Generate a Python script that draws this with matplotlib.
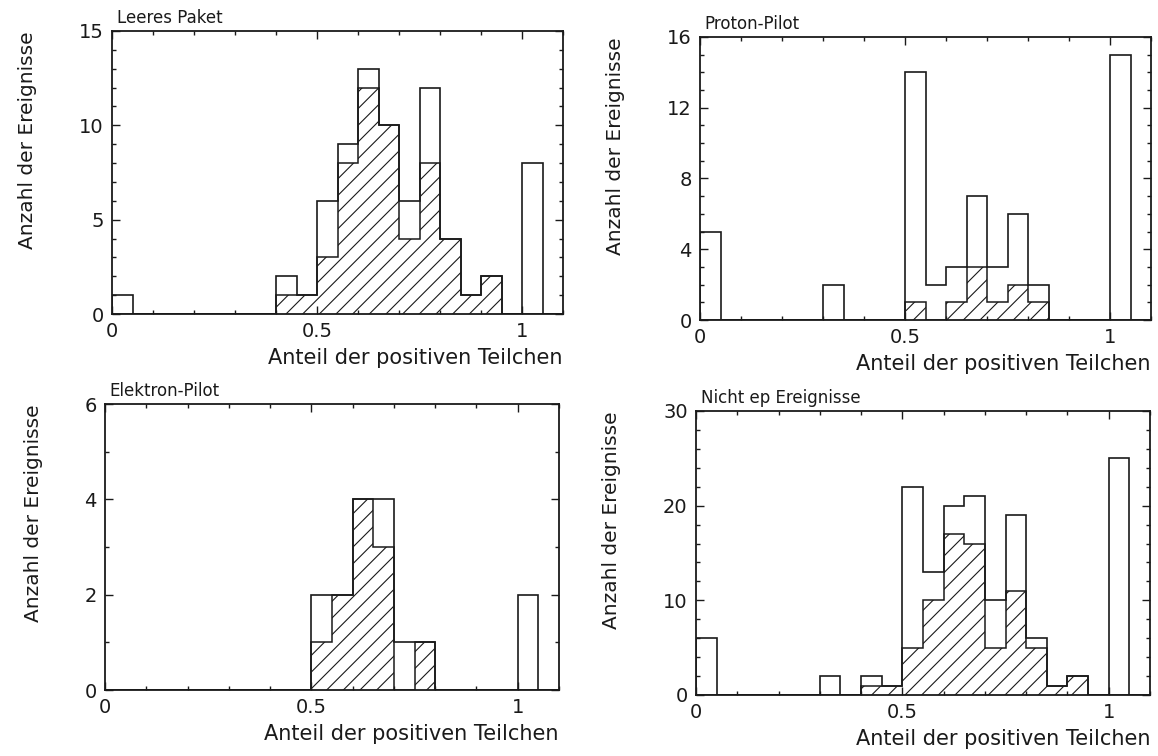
import numpy as np
import matplotlib as mpl
import matplotlib.pyplot as plt
from matplotlib.ticker import MultipleLocator

# Bins: 0 .. 1.1 in steps of 0.05 (22 bins)
leer_alle = [1, 0, 0, 0, 0, 0, 0, 0, 2, 1, 6, 9, 13, 10, 6, 12, 4, 1, 2, 0, 8, 0]
leer_schraff = [0, 0, 0, 0, 0, 0, 0, 0, 1, 1, 3, 8, 12, 10, 4, 8, 4, 1, 2, 0, 0, 0]

proton_alle = [5, 0, 0, 0, 0, 0, 2, 0, 0, 0, 14, 2, 3, 7, 3, 6, 2, 0, 0, 0, 15, 0]
proton_schraff = [0, 0, 0, 0, 0, 0, 0, 0, 0, 0, 1, 0, 1, 3, 1, 2, 1, 0, 0, 0, 0, 0]

elektron_alle = [0, 0, 0, 0, 0, 0, 0, 0, 0, 0, 2, 2, 4, 4, 1, 1, 0, 0, 0, 0, 2, 0]
elektron_schraff = [0, 0, 0, 0, 0, 0, 0, 0, 0, 0, 1, 2, 4, 3, 0, 1, 0, 0, 0, 0, 0, 0]

nichtep_alle = [6, 0, 0, 0, 0, 0, 2, 0, 2, 1, 22, 13, 20, 21, 10, 19, 6, 1, 2, 0, 25, 0]
nichtep_schraff = [0, 0, 0, 0, 0, 0, 0, 0, 1, 1, 5, 10, 17, 16, 5, 11, 5, 1, 2, 0, 0, 0]

titles = ["Leeres Paket", "Proton-Pilot", "Elektron-Pilot", "Nicht ep Ereignisse"]
ymax = [15, 16, 6, 30]
ymajor = [5, 4, 2, 10]
yminor = [1, 1, 1, 2]

BIN_WIDTH = 0.05
W, H = 1158, 756

mpl.rcParams['font.family'] = 'DejaVu Sans'
mpl.rcParams['hatch.linewidth'] = 0.8
mpl.rcParams['hatch.color'] = 'black'

fig = plt.figure(figsize=(W / 100, H / 100), dpi=100)


def box(l, r, t, b):
    return [l / W, 1 - b / H, (r - l) / W, (b - t) / H]


# pixel boxes of the four frames (left, right, top, bottom)
frames = [(112, 563, 31, 314), (700, 1151, 37, 320),
          (105, 559, 404, 690), (696, 1150, 411, 695)]
data = [(leer_alle, leer_schraff), (proton_alle, proton_schraff),
        (elektron_alle, elektron_schraff), (nichtep_alle, nichtep_schraff)]

ink = '#1a1a1a'
for i, (alle, schraff) in enumerate(data):
    ax = fig.add_axes(box(*frames[i]))
    edges = np.arange(len(alle) + 1) * BIN_WIDTH
    ax.stairs(schraff, edges, fill=True, facecolor='none', edgecolor=ink,
              hatch='//', linewidth=1.1)
    ax.stairs(alle, edges, color=ink, linewidth=1.2)

    ax.set_xlim(0, 1.1)
    ax.set_ylim(0, ymax[i])
    ax.set_xticks([0, 0.5, 1])
    ax.set_xticklabels(['0', '0.5', '1'])
    ax.xaxis.set_minor_locator(MultipleLocator(0.1))
    ax.yaxis.set_major_locator(MultipleLocator(ymajor[i]))
    ax.yaxis.set_minor_locator(MultipleLocator(yminor[i]))
    ax.tick_params(which='both', direction='in', top=True, right=True,
                   colors=ink, labelsize=14, width=1.0)
    ax.tick_params(which='major', length=6, pad=6)
    ax.tick_params(which='minor', length=3)
    for s in ax.spines.values():
        s.set_linewidth(1.3)
        s.set_color(ink)

    ax.set_title(titles[i], loc='left', fontsize=12, color=ink, pad=6, x=0.01)
    ax.set_xlabel('Anteil der positiven Teilchen', loc='right', fontsize=15,
                  color=ink, labelpad=5)
    ax.set_ylabel('Anzahl der Ereignisse', loc='top', fontsize=14.5,
                  color=ink, labelpad=30)

fig.savefig('out.png', dpi=100, facecolor='white')
